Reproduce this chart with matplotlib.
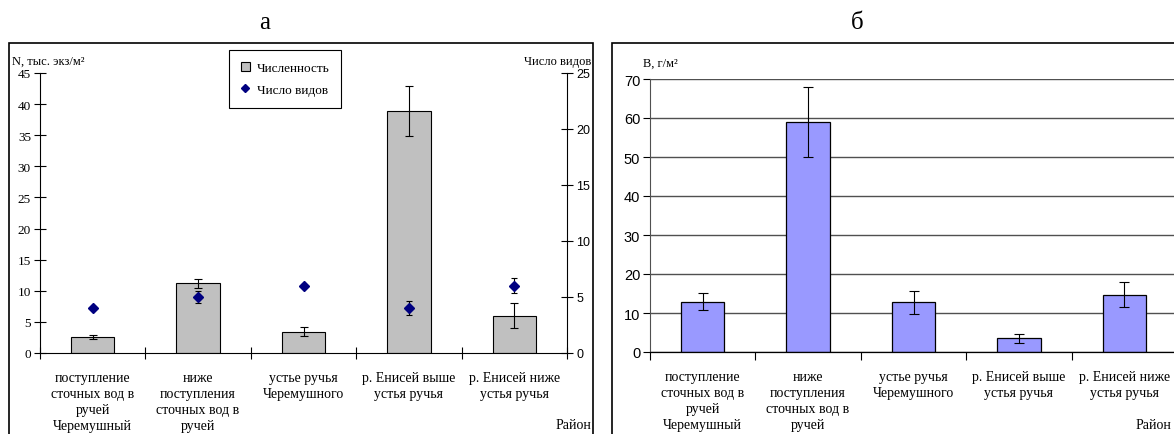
import matplotlib.pyplot as plt
import numpy as np
from matplotlib.patches import Rectangle
from matplotlib.lines import Line2D

# data
districts = [
    "поступление\nсточных вод в\nручей\nЧеремушный",
    "ниже\nпоступления\nсточных вод в\nручей",
    "устье ручья\nЧеремушного",
    "р. Енисей выше\nустья ручья",
    "р. Енисей ниже\nустья ручья",
]
abundance = [2.6, 11.2, 3.4, 38.9, 6.0]        # N, тыс. экз/м2
abundance_err = [0.35, 0.7, 0.7, 4.0, 2.0]
species = [4.0, 5.0, 6.0, 4.0, 6.0]            # число видов
species_err = [0.08, 0.5, 0.08, 0.6, 0.67]
biomass = [12.9, 59.0, 12.7, 3.5, 14.7]        # B, г/м2
biomass_err = [2.15, 9.0, 3.0, 1.1, 3.2]

SERIF = "Liberation Serif"
SANS = "Liberation Sans"
W, H = 1174, 435

fig = plt.figure(figsize=(W / 100, H / 100), dpi=100)


def px_box(x0, y0, x1, y1):
    # pixel box (top-left origin) -> figure fraction [l, b, w, h]
    return [x0 / W, (H - y1) / H, (x1 - x0) / W, (y1 - y0) / H]


# panel frames
fig.patches.append(Rectangle((9 / W, -0.05), (593 - 9) / W, (H - 44) / H + 0.05,
                             transform=fig.transFigure, fill=False, ec="black", lw=1.2))
fig.patches.append(Rectangle((612 / W, -0.05), 0.6, (H - 44) / H + 0.05,
                             transform=fig.transFigure, fill=False, ec="black", lw=1.2))

fig.text(265 / W, 1 - 23 / H, "а", ha="center", va="center", fontsize=18, family=SERIF)
fig.text(857 / W, 1 - 23 / H, "б", ha="center", va="center", fontsize=18, family=SERIF)

x = np.arange(len(districts))

# ---- panel а ----
ax = fig.add_axes(px_box(40, 74, 567, 354))
bars = ax.bar(x, abundance, width=0.41, color="#C0C0C0", edgecolor="black", lw=0.8, zorder=2)
ax.errorbar(x, abundance, yerr=abundance_err, fmt="none", ecolor="black",
            elinewidth=0.8, capsize=3, capthick=0.8, zorder=3)
ax.set_xlim(-0.5, len(districts) - 0.5)
ax.set_ylim(0, 45)
ax.set_yticks(np.arange(0, 46, 5))
ax.set_xticks(x)
ax.set_xticklabels(districts, family=SERIF, fontsize=10, linespacing=1.3, va="top")
ax.set_xticks(np.arange(-0.5, len(districts)), minor=True)
ax.tick_params(axis="x", which="major", length=0, pad=13)
ax.tick_params(axis="x", which="minor", direction="inout", length=9, width=0.8)
ax.tick_params(axis="y", direction="inout", length=9, width=0.8, labelsize=9.5, pad=2)
for lab in ax.get_yticklabels():
    lab.set_family(SERIF)
for s in ["top", "right"]:
    ax.spines[s].set_visible(False)
ax.spines["left"].set_linewidth(0.8)
ax.spines["bottom"].set_linewidth(0.8)

ax2 = ax.twinx()
ax2.errorbar(x, species, yerr=species_err, fmt="D", color="#000080", ms=5,
             ecolor="black", elinewidth=0.8, capsize=2.5, capthick=0.8, zorder=3)
ax2.set_ylim(0, 25)
ax2.set_yticks(np.arange(0, 26, 5))
ax2.tick_params(axis="y", direction="inout", length=9, width=0.8, labelsize=9, pad=2)
for lab in ax2.get_yticklabels():
    lab.set_family(SANS)
for s in ["top", "left", "bottom"]:
    ax2.spines[s].set_visible(False)
ax2.spines["right"].set_linewidth(0.8)

handles = [Rectangle((0, 0), 1, 1, fc="#C0C0C0", ec="black", lw=0.8),
           Line2D([], [], marker="D", ls="", color="#000080", ms=4)]
leg = ax2.legend(handles, ["Численность", "Число видов"], loc="center",
                 bbox_to_anchor=(285 / W, 1 - 80 / H), bbox_transform=fig.transFigure,
                 prop={"family": SERIF, "size": 9.5}, fancybox=False, edgecolor="black",
                 framealpha=1, handlelength=0.7, handleheight=0.7, handletextpad=0.5,
                 borderpad=0.9, labelspacing=0.7, borderaxespad=0)
leg.get_frame().set_linewidth(0.8)

fig.text(12 / W, 1 - 62 / H, "N, тыс. экз/м²", ha="left", va="center", fontsize=9, family=SERIF)
fig.text(591 / W, 1 - 62 / H, "Число видов", ha="right", va="center", fontsize=9, family=SERIF)
fig.text(591 / W, 1 - 426 / H, "Район", ha="right", va="center", fontsize=10, family=SERIF)

# ---- panel б ----
ax3 = fig.add_axes(px_box(650, 80, 1177, 353))
ax3.bar(x, biomass, width=0.41, color="#9999FF", edgecolor="black", lw=0.9, zorder=2)
ax3.errorbar(x, biomass, yerr=biomass_err, fmt="none", ecolor="black",
             elinewidth=0.8, capsize=3.5, capthick=0.8, zorder=3)
ax3.set_xlim(-0.5, len(districts) - 0.5)
ax3.set_ylim(0, 70)
ax3.set_yticks(np.arange(0, 71, 10))
ax3.yaxis.grid(True, color="#505050", lw=1.0)
ax3.set_axisbelow(True)
ax3.set_xticks(x)
ax3.set_xticklabels(districts, family=SERIF, fontsize=10, linespacing=1.3, va="top")
ax3.set_xticks(np.arange(-0.5, len(districts)), minor=True)
ax3.tick_params(axis="x", which="major", length=0, pad=13)
ax3.tick_params(axis="x", which="minor", direction="out", length=6, width=0.8)
ax3.tick_params(axis="y", direction="out", length=5, width=0.8, labelsize=10.5, pad=2)
for lab in ax3.get_yticklabels():
    lab.set_family(SANS)
for s in ["top", "right"]:
    ax3.spines[s].set_visible(False)
ax3.spines["left"].set_color("#505050")
ax3.spines["bottom"].set_linewidth(0.9)

fig.text(643 / W, 1 - 64 / H, "B, г/м²", ha="left", va="center", fontsize=9, family=SERIF)
fig.text(1171 / W, 1 - 426 / H, "Район", ha="right", va="center", fontsize=10, family=SERIF)

fig.savefig("out.png", dpi=100)
